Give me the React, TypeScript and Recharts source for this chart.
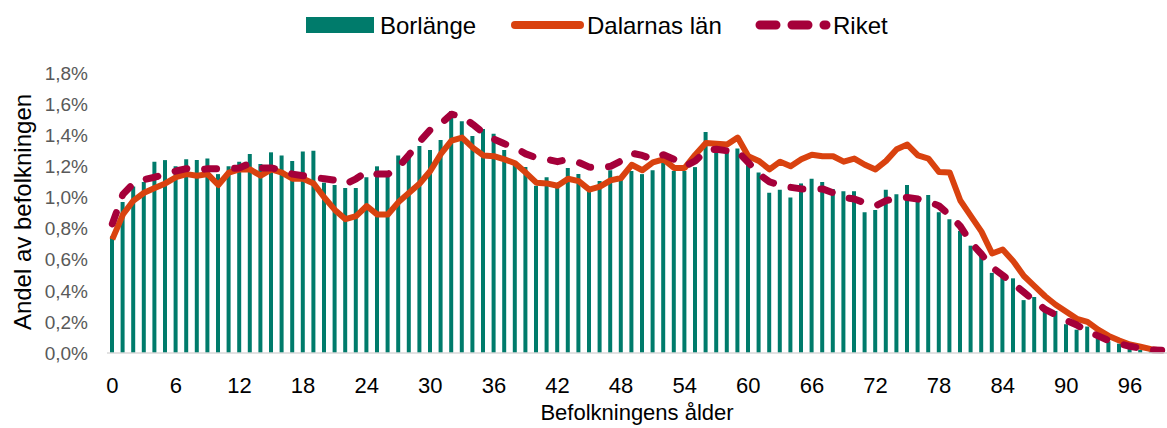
import React from "react";
import { ComposedChart, Bar, Line, XAxis, YAxis } from "recharts";

const ages = Array.from({ length: 100 }, (_, i) => i);

// andel av befolkningen i procent, ålder 0..99
const borlange = [
  0.75, 0.97, 1.07, 1.1, 1.23, 1.24, 1.2, 1.245, 1.24, 1.25,
  1.15, 1.2, 1.23, 1.28, 1.215, 1.29, 1.27, 1.235, 1.295, 1.3,
  1.095, 1.08, 1.06, 1.06, 1.13, 1.2, 1.15, 1.27, 1.255, 1.33,
  1.305, 1.37, 1.555, 1.49, 1.395, 1.44, 1.41, 1.305, 1.22, 1.195,
  1.075, 1.13, 1.06, 1.19, 1.15, 1.04, 1.105, 1.175, 1.115, 1.17,
  1.15, 1.175, 1.225, 1.17, 1.17, 1.195, 1.42, 1.29, 1.29, 1.315,
  1.225, 1.16, 1.03, 1.05, 1.0, 1.09, 1.12, 1.1, 1.055, 1.04,
  1.04, 0.905, 0.92, 1.05, 1.02, 1.08, 1.005, 1.015, 0.905, 0.86,
  0.785, 0.69, 0.65, 0.515, 0.5, 0.48, 0.34, 0.36, 0.28, 0.27,
  0.185, 0.15, 0.17, 0.11, 0.075, 0.06, 0.03, 0.02, 0.01, 0.005,
];

const dalarna = [
  0.73, 0.89, 0.98, 1.03, 1.06, 1.09, 1.13, 1.15, 1.14, 1.15,
  1.08, 1.16, 1.18, 1.18, 1.14, 1.18, 1.16, 1.12, 1.12, 1.09,
  1.0, 0.92, 0.86, 0.88, 0.945, 0.89, 0.89, 0.97, 1.03, 1.09,
  1.17, 1.28, 1.365, 1.385, 1.32, 1.27, 1.265, 1.245, 1.22, 1.16,
  1.095, 1.09, 1.075, 1.12, 1.105, 1.05, 1.07, 1.11, 1.125, 1.21,
  1.175, 1.225, 1.245, 1.19, 1.19, 1.275, 1.35, 1.345, 1.34, 1.385,
  1.265, 1.235, 1.18, 1.23, 1.2, 1.245, 1.275, 1.265, 1.265, 1.23,
  1.25, 1.21, 1.18, 1.235, 1.31, 1.34, 1.27, 1.25, 1.163, 1.16,
  0.98, 0.88, 0.78, 0.64, 0.665, 0.59, 0.495, 0.43, 0.365, 0.31,
  0.265, 0.22, 0.2, 0.15, 0.11, 0.08, 0.055, 0.04, 0.025, 0.017,
];

const riket = [
  0.83, 1.02, 1.09, 1.115, 1.13, 1.15, 1.17, 1.185, 1.175, 1.185,
  1.185, 1.185, 1.19, 1.22, 1.19, 1.19, 1.175, 1.15, 1.14, 1.13,
  1.12, 1.11, 1.085, 1.12, 1.165, 1.15, 1.15, 1.195, 1.275, 1.36,
  1.435, 1.475, 1.535, 1.52, 1.47, 1.415, 1.375, 1.345, 1.32, 1.28,
  1.255, 1.245, 1.23, 1.245, 1.225, 1.195, 1.19, 1.2, 1.235, 1.285,
  1.27, 1.245, 1.275, 1.245, 1.2, 1.235, 1.3, 1.31, 1.3, 1.295,
  1.225, 1.15, 1.1, 1.08, 1.065, 1.055, 1.055, 1.055, 1.03, 1.0,
  0.99, 0.965, 0.945, 0.98, 0.995, 1.0, 0.99, 0.975, 0.945, 0.885,
  0.815, 0.71, 0.635, 0.55, 0.5, 0.445, 0.39, 0.335, 0.28, 0.245,
  0.21, 0.18, 0.14, 0.11, 0.08, 0.06, 0.043, 0.03, 0.02, 0.017,
];

const yTicks = [0, 0.2, 0.4, 0.6, 0.8, 1.0, 1.2, 1.4, 1.6, 1.8];

const TEAL = "#007B6B";
const ORANGE = "#D9420F";
const CRIMSON = "#A5003A";
const FONT = "'Liberation Sans', Arial, sans-serif";

const data = ages.map((age, i) => ({
  age,
  borlange: borlange[i],
  dalarna: dalarna[i],
  riket: riket[i],
}));

const fmtPct = (v: number) => v.toFixed(1).replace(".", ",") + "%";

function TopLegend() {
  return (
    <svg width={1167} height={50} style={{ position: "absolute", left: 0, top: 0 }}>
      <g fontFamily={FONT} fontSize={24} fill="#000">
        <rect x={306} y={17} width={68} height={16} fill={TEAL} />
        <text x={380} y={33.5}>Borlänge</text>
        <line x1={515} y1={25} x2={580} y2={25} stroke={ORANGE} strokeWidth={8} strokeLinecap="round" />
        <text x={587} y={33.5}>Dalarnas län</text>
        <line x1={760} y1={25} x2={826} y2={25} stroke={CRIMSON} strokeWidth={9}
          strokeLinecap="round" strokeDasharray="16 16" />
        <text x={833} y={33.5}>Riket</text>
      </g>
    </svg>
  );
}

export default function App() {
  return (
    <div style={{ position: "absolute", left: 0, top: 0, width: 1167, height: 428, background: "#fff" }}>
      <ComposedChart
        width={1167}
        height={428}
        data={data}
        margin={{ top: 73, right: 0, left: 0, bottom: 0 }}
        barCategoryGap={0}
      >
        <XAxis
          dataKey="age"
          interval={5}
          height={75}
          tickSize={0}
          tickMargin={24}
          axisLine={{ stroke: "#D9D9D9", strokeWidth: 1.5 }}
          tick={{ fontFamily: FONT, fontSize: 22, fill: "#000" }}
          label={() => (
            <text x={637} y={420} textAnchor="middle" fontFamily={FONT} fontSize={22} fill="#000">
              Befolkningens ålder
            </text>
          )}
        />
        <YAxis
          width={107}
          domain={[0, 1.8]}
          ticks={yTicks}
          tickFormatter={fmtPct}
          tickSize={0}
          tickMargin={19}
          axisLine={false}
          tick={{ fontFamily: FONT, fontSize: 19, fill: "#595959" }}
          label={() => (
            <text x={31} y={212} textAnchor="middle" transform="rotate(-90 31 212)"
              fontFamily={FONT} fontSize={24} fill="#000">
              Andel av befolkningen
            </text>
          )}
        />
        <Bar dataKey="borlange" fill={TEAL} barSize={4} isAnimationActive={false} />
        <Line
          dataKey="dalarna"
          type="linear"
          stroke={ORANGE}
          strokeWidth={6}
          strokeLinejoin="round"
          dot={false}
          activeDot={false}
          isAnimationActive={false}
        />
        <Line
          dataKey="riket"
          type="linear"
          stroke={CRIMSON}
          strokeWidth={7}
          strokeLinecap="round"
          strokeLinejoin="round"
          strokeDasharray="12 18"
          dot={false}
          activeDot={false}
          isAnimationActive={false}
        />
      </ComposedChart>
      <TopLegend />
    </div>
  );
}
